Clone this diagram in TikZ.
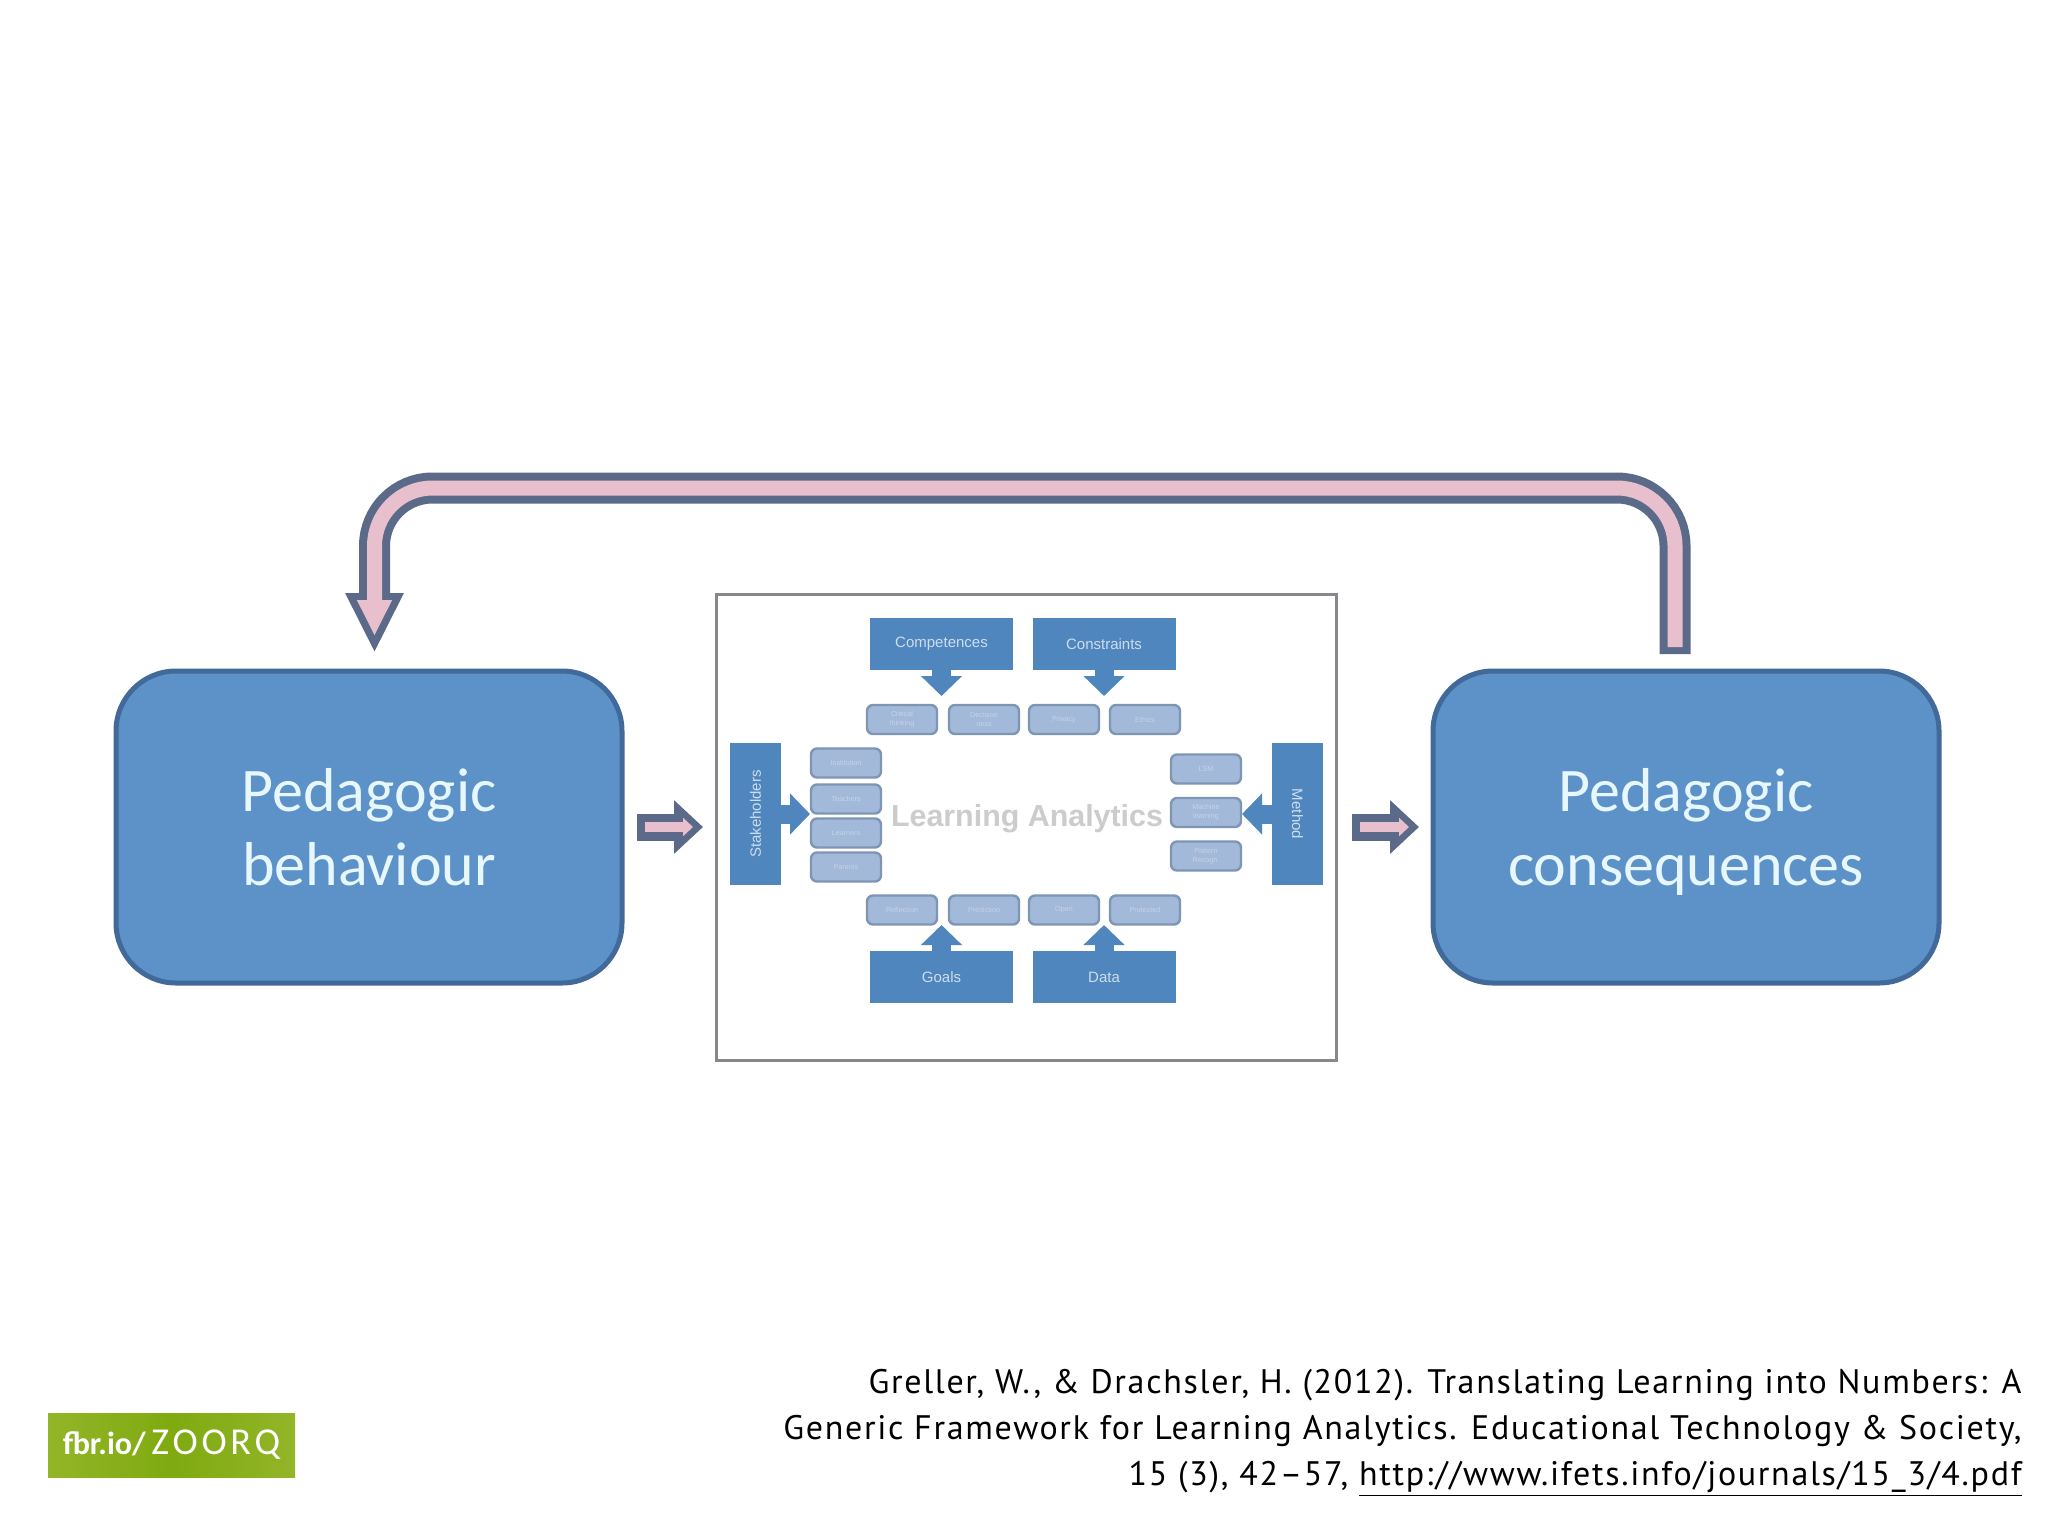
\documentclass[tikz,border=0pt]{standalone}
\usepackage{fontspec}
\setmainfont{Carlito}
\newfontfamily\labelfont{Liberation Sans}
\newfontfamily\citefont[LetterSpace=5]{PT Sans}
\usetikzlibrary{%
    arrows.meta,%
    calc%
}

\definecolor{bigblue}{HTML}{5D92C9}
\definecolor{bigedge}{HTML}{41699A}
\definecolor{headblue}{HTML}{4F86BE}
\definecolor{smallblue}{HTML}{A3B9DA}
\definecolor{smalledge}{HTML}{7F95B4}
\definecolor{smalltext}{HTML}{C5D3E8}
\definecolor{arrowpink}{HTML}{E8BFCC}
\definecolor{arrowedge}{HTML}{5A6A88}
\definecolor{framegrey}{HTML}{87878C}
\definecolor{badgegreen}{HTML}{7FAA10}
\definecolor{badgelight}{HTML}{93B528}

\tikzset{
    bigbox/.style={draw=bigedge, fill=bigblue, line width=2.5pt, rounded corners=30pt,
        minimum width=253pt, minimum height=156pt, inner sep=0pt, text=white!90!cyan,
        align=center, font=\fontsize{31}{37}\selectfont},
    headbox/.style={fill=headblue, inner sep=0pt, text=white!72!headblue,
        font=\labelfont\fontsize{7.5}{8}\selectfont},
    smallbox/.style={draw=smalledge, fill=smallblue, line width=1.2pt, rounded corners=3pt,
        minimum width=35pt, minimum height=14.5pt, inner sep=0pt, text=smalltext,
        align=center, font=\labelfont\fontsize{3.6}{4.6}\selectfont},
    blockarrow/.style={draw=headblue, line width=9.5pt, -{Triangle[length=10pt,width=20pt]}},
    pinkedge/.style={draw=arrowedge, line width=13.5pt, -{Triangle[length=14.5pt,width=26pt]}},
    pinkfill/.style={draw=arrowpink, line width=5pt, shorten >=5pt, shorten <=4pt,
        -{Triangle[length=5pt,width=9pt]}},
    backedge/.style={draw=arrowedge, line width=15.5pt, rounded corners=29pt,
        -{Triangle[length=30pt,width=27pt]}},
    backfill/.style={draw=arrowpink, line width=7.5pt, rounded corners=29pt, shorten >=8.5pt, shorten <=3.5pt,
        -{Triangle[length=18pt,width=16.2pt]}}
}

\begin{document}
\begin{tikzpicture}[x=0.5pt, y=-0.5pt]
    \useasboundingbox (0,0) rectangle (2048,1536);

    % outer boxes
    \node[bigbox] (behaviour) at (369,827) {\rule{0pt}{33pt}Pedagogic\\behaviour\strut};
    \node[bigbox] (consequences) at (1686,827) {\rule{0pt}{33pt}Pedagogic\\consequences\strut};

    % framed figure
    \node[draw=framegrey, line width=1.5pt, fill=white, minimum width=310pt, minimum height=233pt] (figure) at (1026.5,827) {};
    \node[text=black!20, font=\labelfont\bfseries\fontsize{15.2}{18}\selectfont] (title) at (1027,819) {Learning Analytics};

    \node[headbox, minimum width=71.5pt, minimum height=26pt] (competences) at (941.5,644) {Competences};
    \node[headbox, minimum width=71.5pt, minimum height=26pt] (constraints) at (1104,644) {Constraints};
    \node[headbox, minimum width=71.5pt, minimum height=26pt] (goals) at (941.5,977) {Goals};
    \node[headbox, minimum width=71.5pt, minimum height=26pt] (data) at (1104,977) {Data};
    \node[headbox, minimum width=25.5pt, minimum height=71pt] (stakeholders) at (755.5,814) {\rotatebox{90}{Stakeholders}};
    \node[headbox, minimum width=25.5pt, minimum height=71pt] (method) at (1297.5,814) {\rotatebox{-90}{Method}};

    \node[smallbox] (critical) at (902,719.5) {Critical\\thinking};
    \node[smallbox] (decision) at (984,719.5) {Decision\\ness};
    \node[smallbox] (privacy) at (1064,719.5) {Privacy};
    \node[smallbox] (ethics) at (1145,719.5) {Ethics};

    \node[smallbox] (reflection) at (902,910) {Reflection};
    \node[smallbox] (prediction) at (984,910) {Prediction};
    \node[smallbox] (open) at (1064,910) {Open};
    \node[smallbox] (protected) at (1145,910) {Protected};

    \node[smallbox] (institution) at (846,763) {Institution};
    \node[smallbox] (teachers) at (846,799) {Teachers};
    \node[smallbox] (learners) at (846,833) {Learners};
    \node[smallbox] (parents) at (846,867) {Parents};

    \node[smallbox] (lsm) at (1206,769) {LSM};
    \node[smallbox] (machine) at (1206,812.5) {Machine\\learning};
    \node[smallbox] (pattern) at (1206,856) {Pattern\\Recogn.};

    \coordinate (leftin) at (810,814);
    \coordinate (rightin) at (1242,814);
    \coordinate (compout) at (941.5,696);
    \coordinate (consout) at (1104,696);
    \coordinate (goalout) at (941.5,925);
    \coordinate (dataout) at (1104,925);

    \draw[blockarrow] (competences.south) -- (compout);
    \draw[blockarrow] (constraints.south) -- (consout);
    \draw[blockarrow] (goals.north) -- (goalout);
    \draw[blockarrow] (data.north) -- (dataout);
    \draw[blockarrow] (stakeholders.east) -- (leftin);
    \draw[blockarrow] (method.west) -- (rightin);

    % pink arrows
    \coordinate (fromleft) at (637,827);
    \coordinate (intofigure) at (703,827);
    \coordinate (outfigure) at (1352,827);
    \coordinate (intoright) at (1419,827);
    \draw[pinkedge] (fromleft) -- (intofigure);
    \draw[pinkfill] (fromleft) -- (intofigure);
    \draw[pinkedge] (outfigure) -- (intoright);
    \draw[pinkfill] (outfigure) -- (intoright);

    \coordinate (backstart) at (1675,654);
    \coordinate (backtopr) at (1675,488);
    \coordinate (backtopl) at (374.5,488);
    \coordinate (backend) at (374.5,653);
    \draw[backedge] (backstart) -- (backtopr) -- (backtopl) -- (backend);
    \draw[backfill] (backstart) -- (backtopr) -- (backtopl) -- (backend);

    % badge and source
    \node[left color=badgelight, right color=badgelight, middle color=badgegreen, minimum width=123.5pt, minimum height=32pt, inner sep=0pt, text=white] (badge) at (171.5,1445)
        {\fontsize{16}{20}\selectfont\textbf{fbr.io/}\,{\fontsize{19}{20}\selectfont\addfontfeature{LetterSpace=10}ZOORQ}};
    \node[anchor=base east, align=right, inner sep=0pt, font=\citefont\fontsize{17}{23}\selectfont] (source) at (2022,1485)
        {Greller, W., \& Drachsler, H. (2012). Translating Learning into Numbers: A\\
         Generic Framework for Learning Analytics. Educational Technology \& Society,\\
         15 (3), 42–57, \underline{http://www.ifets.info/journals/15\_3/4.pdf}};
\end{tikzpicture}
\end{document}
